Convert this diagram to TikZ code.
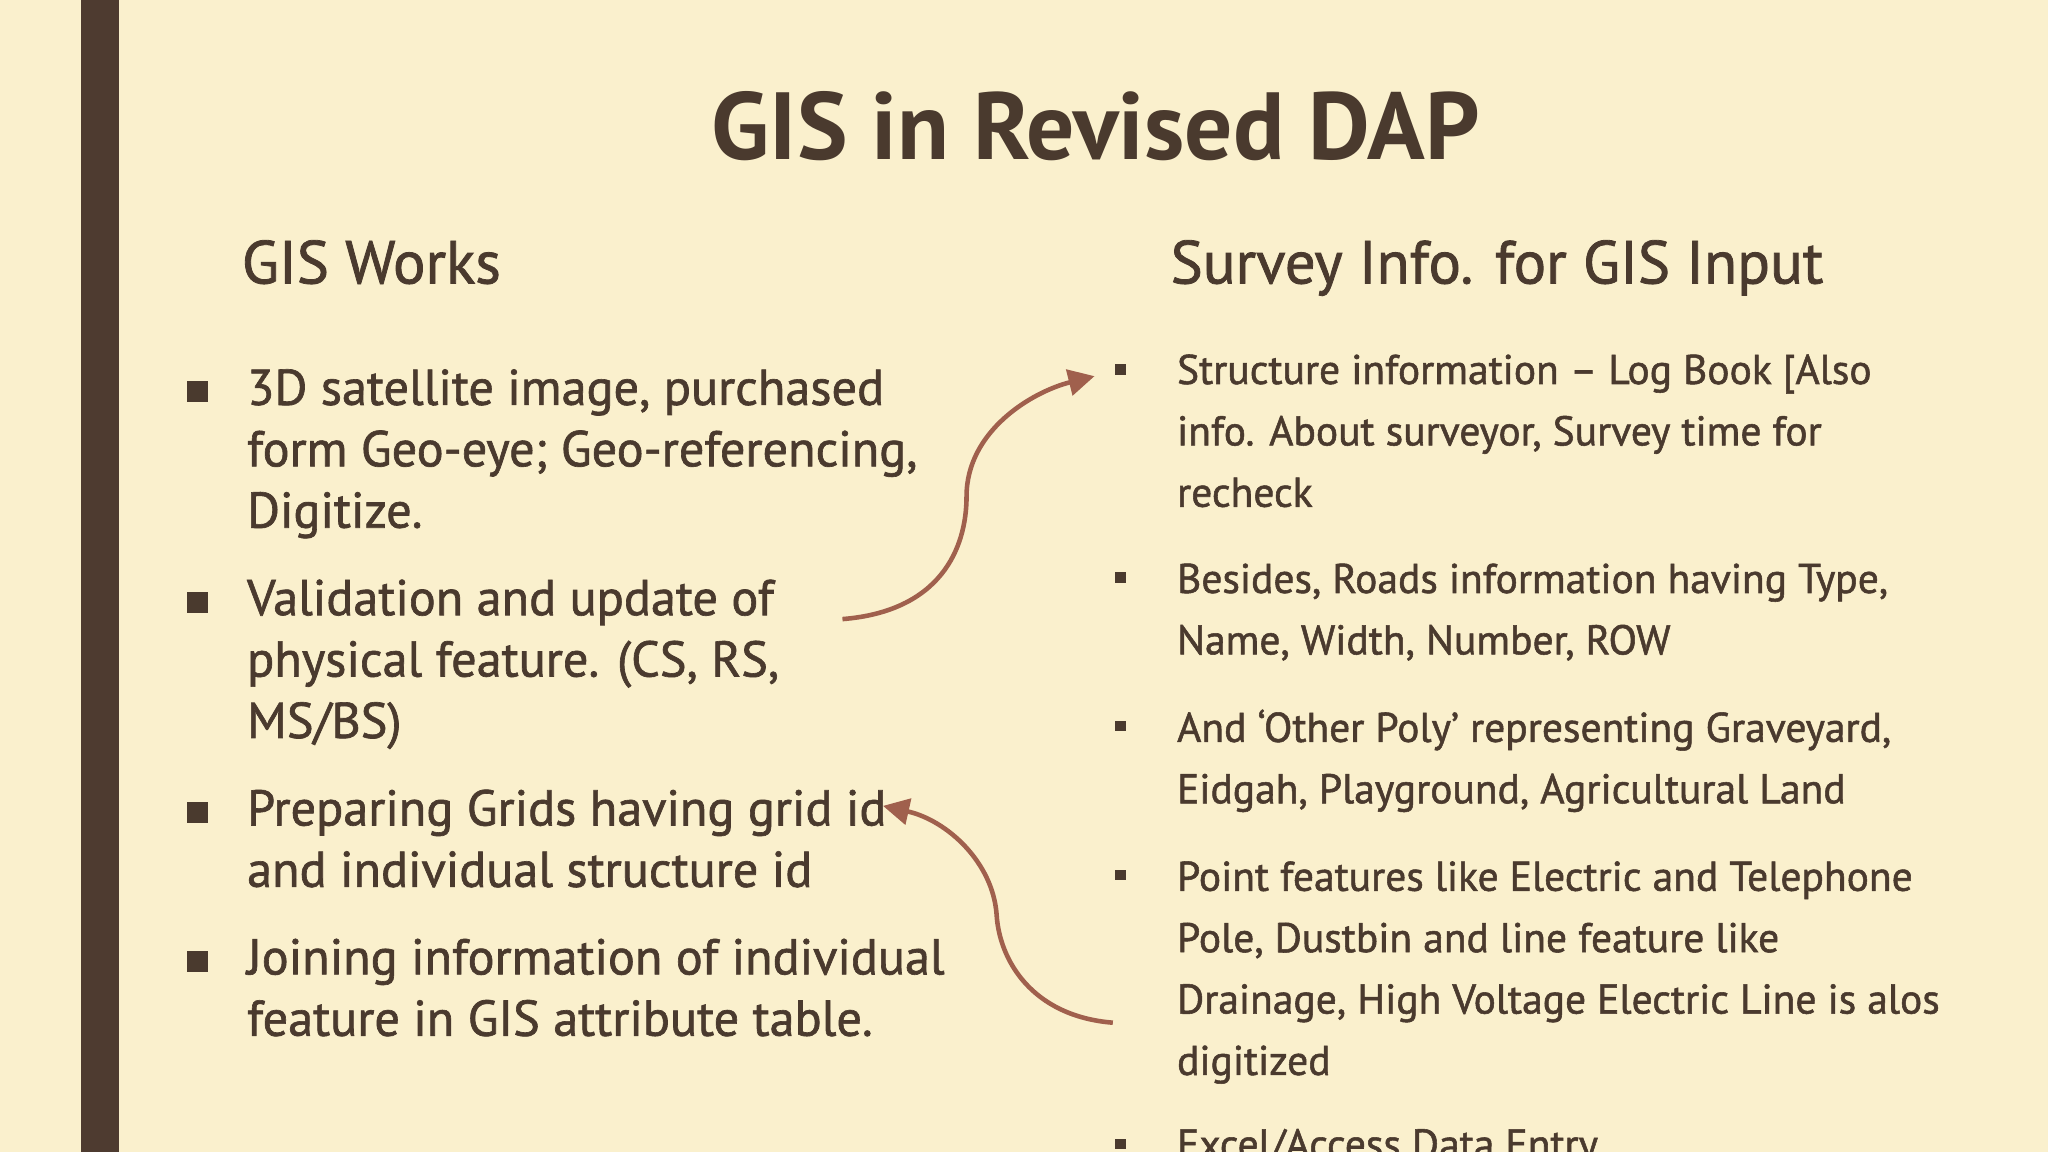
\documentclass[tikz,border=0pt]{standalone}
\usepackage{fontspec}
\setmainfont{PT Sans}
\newfontfamily\semi{PT Sans}[FakeBold=1.3]
\usetikzlibrary{arrows.meta}
\definecolor{bg}{HTML}{FAF0CD}
\definecolor{bar}{HTML}{4E3B30}
\definecolor{txt}{HTML}{4A3A2E}
\definecolor{arr}{HTML}{A0604D}
\tikzset{
 L/.style={anchor=base west,inner sep=0pt,text=txt,font=\semi\fontsize{38.5}{40}\selectfont},
 R/.style={anchor=base west,inner sep=0pt,text=txt,font=\semi\fontsize{31.8}{34}\selectfont},
 H/.style={anchor=base west,inner sep=0pt,text=txt,font=\semi\fontsize{46.5}{48}\selectfont},
 bl/.style={fill=txt,minimum size=16pt,inner sep=0pt},
 br/.style={fill=txt,minimum size=8pt,inner sep=0pt},
 con/.style={draw=arr,line width=3.5pt,-{Triangle[length=20pt,width=20pt]}}
}
\begin{document}
\begin{tikzpicture}[x=1pt,y=-1pt]
\fill[bg] (0,0) rectangle (1568,882);
\useasboundingbox (0,0) rectangle (1568,882);
\fill[bar] (62,0) rectangle (91,882);
\node[anchor=base,text=txt,font=\bfseries\fontsize{73}{76}\selectfont] (title) at (839,122) {GIS in Revised DAP};
\node[H] (h1) at (185,217) {GIS Works};
\node[H] (h2) at (896,217) {Survey Info. for GIS Input};
% left
\node[bl] (b1) at (151,300) {};
\node[L] (l1) at (189,310) {3D satellite image, purchased};
\node[L] (l2) at (189,357) {form Geo-eye; Geo-referencing,};
\node[L] (l3) at (189,404) {Digitize.};
\node[bl] (b2) at (151,461) {};
\node[L] (l4) at (189,471) {Validation and update of};
\node[L] (l5) at (189,518) {physical feature. (CS, RS,};
\node[L] (l6) at (189,565) {MS/BS)};
\node[bl] (b3) at (151,622) {};
\node[L] (l7) at (189,632) {Preparing Grids having grid id};
\node[L] (l8) at (189,679) {and individual structure id};
\node[bl] (b4) at (151,736) {};
\node[L] (l9) at (189,746) {Joining information of individual};
\node[L] (l10) at (189,793) {feature in GIS attribute table.};
% right
\node[br] (c1) at (858,283) {};
\node[R] (r1) at (901,294) {Structure information – Log Book [Also};
\node[R] (r2) at (901,341) {info. About surveyor, Survey time for};
\node[R] (r3) at (901,388) {recheck};
\node[br] (c2) at (858,442) {};
\node[R] (r4) at (901,454) {Besides, Roads information having Type,};
\node[R] (r5) at (901,501) {Name, Width, Number, ROW};
\node[br] (c3) at (858,556) {};
\node[R] (r6) at (901,568) {And ‘Other Poly’ representing Graveyard,};
\node[R] (r7) at (901,615) {Eidgah, Playground, Agricultural Land};
\node[br] (c4) at (858,670) {};
\node[R] (r8) at (901,682) {Point features like Electric and Telephone};
\node[R] (r9) at (901,729) {Pole, Dustbin and line feature like};
\node[R] (r10) at (901,776) {Drainage, High Voltage Electric Line is alos};
\node[R] (r11) at (901,823) {digitized};
\node[br] (c5) at (858,876) {};
\node[R] (r12) at (901,887) {Excel/Access Data Entry};
% connectors
\coordinate (a1s) at (645,474);
\coordinate (a1m) at (740,380);
\coordinate (a1e) at (838,288);
\draw[con] (a1s) .. controls (720,468) and (740,420) .. (a1m) .. controls (740,330) and (790,300) .. (a1e);
\coordinate (a2s) at (852,783);
\coordinate (a2m) at (763,700);
\coordinate (a2e) at (676,617);
\draw[con] (a2s) .. controls (790,778) and (765,735) .. (a2m) .. controls (760,660) and (725,628) .. (a2e);
\end{tikzpicture}
\end{document}
